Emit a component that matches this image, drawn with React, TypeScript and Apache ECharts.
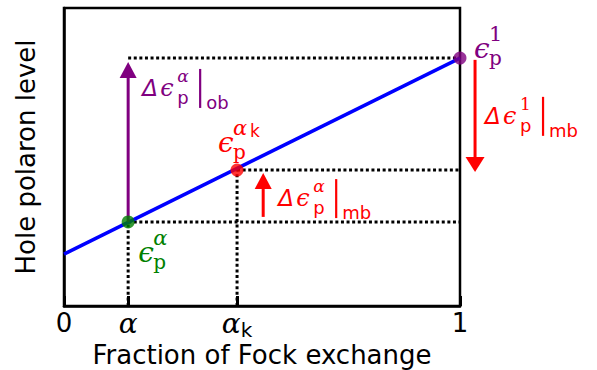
import { useEffect, useRef } from "react";
import * as echarts from "echarts";

// ---------------- data ----------------
const xTickValues = [0, 0.162, 0.437, 1];
const xTickLabels = ["0", "α", "αk", "1"];
const alpha = 0.162;
const alphaK = 0.437;
const lineXs = [0, 1];
const lineYs = [0.174, 0.832];
const eAlpha = 0.282; // green level
const eAlphaK = 0.456; // red level
const eOne = 0.832; // purple level
const arrowX = [alpha, 1.038, 0.503];
const arrowFrom = [eAlpha, 0.826, 0.299];
const arrowTo = [0.819, 0.45, 0.446];
const epsSup = ["α", "α", "1"];
const epsSupExtra = ["", "k", ""];
const deltaSup = ["α", "1", "α"];
const deltaSub = ["ob", "mb", "mb"];
const xName = "Fraction of Fock exchange";
const yName = "Hole polaron level";

// ---------------- styles ----------------
const PURPLE = "#800080";
const RED = "#ff0000";
const GREEN = "#008000";
const BLUE = "#0000ff";
const SANS = "DejaVu Sans";
const SERIF = "DejaVu Serif";
const arrowColors = [PURPLE, RED, RED];
const arrowHead = [
  [17, 16],
  [19, 15],
  [17, 16],
];
const epsColors = [GREEN, RED, PURPLE];
const epsOffsets = [
  [10, 39],
  [-19, -19],
  [14, -1],
];
const deltaColors = [PURPLE, RED, RED];
const deltaOffsets = [
  [14, 33],
  [10, 63],
  [15, 32],
];

const txt = (
  x: number,
  base: number,
  text: string,
  size: number,
  family: string,
  italic: boolean,
  fill: string
) => ({
  type: "text",
  x,
  y: base - 0.3 * size,
  silent: true,
  style: {
    text,
    fill,
    fontSize: size,
    fontFamily: family,
    fontStyle: italic ? "italic" : "normal",
    align: "left",
    verticalAlign: "middle",
  },
});

export default function App() {
  const ref = useRef<HTMLDivElement>(null);
  useEffect(() => {
    document.body.style.margin = "0";
    const chart = echarts.init(ref.current!, null, { renderer: "svg" });

    const dotted = [
      [[alpha, eOne], [1, eOne]],
      [[alphaK, eAlphaK], [1, eAlphaK]],
      [[alpha, eAlpha], [1, eAlpha]],
      [[alpha, 0], [alpha, eAlpha]],
      [[alphaK, 0], [alphaK, eAlphaK]],
    ];

    const dottedSeries = dotted.map((seg) => ({
      type: "line",
      data: seg,
      symbol: "none",
      silent: true,
      z: 2,
      lineStyle: { color: "#000", width: 3, type: [3, 2.6], cap: "butt" },
    }));

    const arrowData = arrowX.map((x, i) => [x, arrowFrom[i], arrowTo[i], i]);
    const epsData = [
      [alpha, eAlpha, 0],
      [alphaK, eAlphaK, 1],
      [1, eOne, 2],
    ];
    const deltaData = [
      [arrowX[0], arrowTo[0], 0],
      [arrowX[1], arrowFrom[1], 1],
      [arrowX[2], arrowTo[2], 2],
    ];

    const tickFmt = (v: number) => {
      let idx = 0;
      xTickValues.forEach((t, i) => {
        if (Math.abs(t - v) < 1e-6) idx = i;
      });
      const lab = xTickLabels[idx];
      if (lab === "α") return "{g|α}";
      if (lab === "αk") return "{g|α}{k|k}";
      return "{n|" + lab + "}";
    };

    chart.setOption({
      animation: false,
      textStyle: { fontFamily: SANS },
      grid: {
        left: 64,
        top: 8,
        width: 396,
        height: 298,
        show: true,
        borderColor: "#000",
        borderWidth: 2.5,
        containLabel: false,
        outerBoundsMode: "none",
      },
      xAxis: {
        type: "value",
        min: 0,
        max: 1,
        name: xName,
        nameLocation: "middle",
        nameGap: 35,
        nameMoveOverlap: false,
        nameTextStyle: { fontSize: 26, lineHeight: 28, color: "#000", fontFamily: SANS },
        axisLine: { show: true, lineStyle: { color: "#000", width: 2.5 } },
        axisTick: {
          show: true,
          inside: true,
          length: 10,
          lineStyle: { color: "#000", width: 3 },
          customValues: xTickValues,
        },
        axisLabel: {
          show: true,
          margin: 0,
          customValues: xTickValues,
          formatter: tickFmt,
          rich: {
            n: { fontSize: 26, lineHeight: 34, fontFamily: SANS, color: "#000" },
            g: {
              fontSize: 28,
              lineHeight: 34,
              fontFamily: SERIF,
              fontStyle: "italic",
              color: "#000",
            },
            k: {
              fontSize: 20,
              lineHeight: 20,
              fontFamily: SANS,
              color: "#000",
              verticalAlign: "bottom",
            },
          },
        },
        splitLine: { show: false },
      },
      yAxis: {
        type: "value",
        min: 0,
        max: 1,
        name: yName,
        nameLocation: "middle",
        nameGap: 25,
        nameTextStyle: { fontSize: 26, color: "#000", fontFamily: SANS },
        axisLine: { show: true, lineStyle: { color: "#000", width: 2.5 } },
        axisTick: { show: false },
        axisLabel: { show: false },
        splitLine: { show: false },
      },
      series: [
        ...dottedSeries,
        {
          type: "line",
          data: lineXs.map((x, i) => [x, lineYs[i]]),
          symbol: "none",
          silent: true,
          z: 3,
          lineStyle: { color: BLUE, width: 3.5 },
        },
        {
          type: "custom",
          clip: false,
          silent: true,
          z: 4,
          data: arrowData,
          renderItem: (_p: any, api: any) => {
            const i = api.value(3);
            const p0 = api.coord([api.value(0), api.value(1)]);
            const p1 = api.coord([api.value(0), api.value(2)]);
            const [w, h] = arrowHead[i];
            const dir = p1[1] < p0[1] ? -1 : 1;
            const baseY = p1[1] - dir * h;
            const c = arrowColors[i];
            return {
              type: "group",
              children: [
                {
                  type: "line",
                  shape: { x1: p0[0], y1: p0[1], x2: p0[0], y2: baseY + dir * 1 },
                  style: { stroke: c, lineWidth: 3 },
                },
                {
                  type: "polygon",
                  shape: {
                    points: [
                      [p1[0] - w / 2, baseY],
                      [p1[0] + w / 2, baseY],
                      [p1[0], p1[1]],
                    ],
                  },
                  style: { fill: c },
                },
              ],
            };
          },
        },
        {
          type: "scatter",
          clip: false,
          silent: true,
          z: 6,
          symbolSize: 13,
          data: epsData.map((d) => ({
            value: [d[0], d[1]],
            itemStyle: { color: epsColors[d[2]] },
          })),
        },
        {
          type: "custom",
          clip: false,
          silent: true,
          z: 7,
          data: epsData,
          renderItem: (_p: any, api: any) => {
            const i = api.value(2);
            const p = api.coord([api.value(0), api.value(1)]);
            const L = p[0] + epsOffsets[i][0];
            const B = p[1] + epsOffsets[i][1];
            const c = epsColors[i];
            const sup = epsSup[i];
            const children: any[] = [
              txt(L, B, "ϵ", 28, SERIF, true, c),
              txt(L + 15, B - 17, sup, 21, SERIF, sup !== "1", c),
              txt(L + 15, B + 7, "p", 20, SERIF, false, c),
            ];
            if (epsSupExtra[i]) children.push(txt(L + 32, B - 15, epsSupExtra[i], 17, SANS, false, c));
            return { type: "group", children };
          },
        },
        {
          type: "custom",
          clip: false,
          silent: true,
          z: 7,
          data: deltaData,
          renderItem: (_p: any, api: any) => {
            const i = api.value(2);
            const p = api.coord([api.value(0), api.value(1)]);
            const L = p[0] + deltaOffsets[i][0];
            const B = p[1] + deltaOffsets[i][1];
            const c = deltaColors[i];
            const sup = deltaSup[i];
            return {
              type: "group",
              children: [
                txt(L, B, "Δ", 23, SANS, true, c),
                txt(L + 18, B, "ϵ", 24, SERIF, true, c),
                txt(L + 35, B - 14, sup, 17, SERIF, sup !== "1", c),
                txt(L + 35, B + 8, "p", 18, SANS, false, c),
                {
                  type: "line",
                  shape: { x1: L + 58, y1: B - 26, x2: L + 58, y2: B + 13 },
                  style: { stroke: c, lineWidth: 2.2 },
                },
                txt(L + 64, B + 13, deltaSub[i], 18, SANS, false, c),
              ],
            };
          },
        },
      ],
    });
    return () => chart.dispose();
  }, []);
  return <div ref={ref} style={{ width: 597, height: 370 }} />;
}
